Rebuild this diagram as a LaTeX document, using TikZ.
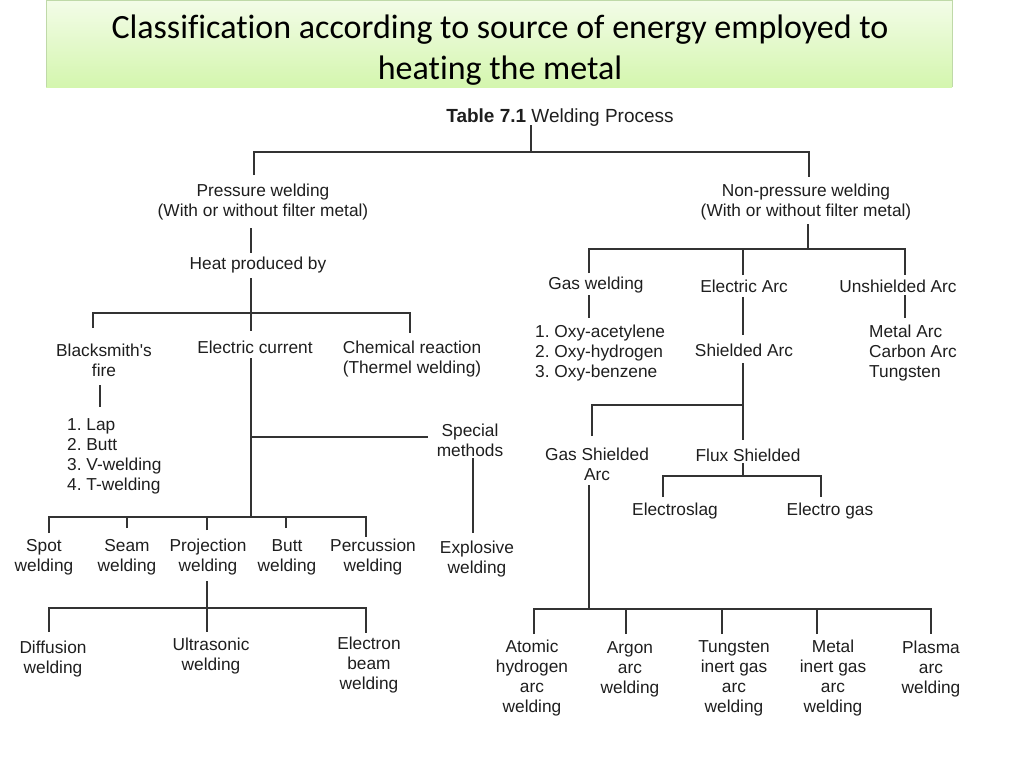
\documentclass[tikz,border=0pt]{standalone}
\usepackage{fontspec}
\setmainfont{Liberation Sans}
\newfontfamily\titlefont[Ligatures=CommonOff]{Carlito}
\definecolor{lncol}{HTML}{333333}
\definecolor{txtcol}{HTML}{1E1E1E}
\definecolor{bantop}{HTML}{F3FCE8}
\definecolor{banbot}{HTML}{D4F6AE}
\definecolor{banline}{HTML}{BFD9A8}
\frenchspacing
\begin{document}
\begin{tikzpicture}[x=1pt,y=-1pt,
  lbl/.style={inner sep=0pt, align=center, font=\fontsize{17.3}{20}\selectfont, text=txtcol, yshift=-2pt},
  lst/.style={lbl, align=left, anchor=west},
  ln/.style={line width=1.8pt, draw=lncol}]
\useasboundingbox (0,0) rectangle (1024,768);
% title banner
\shade[top color=bantop, bottom color=banbot] (46,0) rectangle (952,87);
\draw[banline, line width=1pt] (46,87) -- (46,0.5) -- (952,0.5) -- (952,87);
\node[inner sep=0pt, align=center, font=\titlefont\fontsize{34}{41}\selectfont] (title) at (500,50)
  {Classification according to source of energy employed to\\heating the metal};
% nodes
\node[lbl, font=\fontsize{19}{22}\selectfont, yshift=-1pt] (tab) at (560,115) {\textbf{Table 7.1} Welding Process};
\node[lbl] (pw) at (263,200) {Pressure welding\\(With or without filter metal)};
\node[lbl] (hp) at (258,263) {Heat produced by};
\node[lbl] (bf) at (104,358) {Blacksmith\textquotesingle s\\fire};
\node[lbl] (ec) at (255,345) {Electric current};
\node[lbl] (cr) at (412,357) {Chemical reaction\\(Thermel welding)};
\node[lst] (bl) at (67,454.5) {1. Lap\\2. Butt\\3. V-welding\\4. T-welding};
\node[lbl] (sm) at (470,438) {Special\\methods};
\node[lbl] (ex) at (477,557) {Explosive\\welding};
\node[lbl] (spot) at (44,555) {Spot\\welding};
\node[lbl] (seam) at (127,555) {Seam\\welding};
\node[lbl] (proj) at (208,555) {Projection\\welding};
\node[lbl] (butt) at (287,555) {Butt\\welding};
\node[lbl] (perc) at (373,555) {Percussion\\welding};
\node[lbl] (diff) at (53,657.5) {Diffusion\\welding};
\node[lbl] (ultra) at (211,654.5) {Ultrasonic\\welding};
\node[lbl] (eb) at (369,663.5) {Electron\\beam\\welding};
\node[lbl] (npw) at (806,200) {Non-pressure welding\\(With or without filter metal)};
\node[lbl] (gw) at (596,283) {Gas welding};
\node[lbl] (ea) at (744,284) {Electric Arc};
\node[lbl] (ua) at (898,284) {Unshielded Arc};
\node[lst] (ox) at (535,351) {1. Oxy-acetylene\\2. Oxy-hydrogen\\3. Oxy-benzene};
\node[lbl] (sa) at (744,348) {Shielded Arc};
\node[lst] (ma) at (869,351) {Metal Arc\\Carbon Arc\\Tungsten};
\node[lbl] (gsa) at (597,462.5) {Gas Shielded\\Arc};
\node[lbl] (fs) at (748,453) {Flux Shielded};
\node[lbl] (es) at (675,509) {Electroslag};
\node[lbl] (eg) at (830,509) {Electro gas};
\node[lbl] (ah) at (532,676.5) {Atomic\\hydrogen\\arc\\welding};
\node[lbl] (ar) at (630,667) {Argon\\arc\\welding};
\node[lbl] (tig) at (734,676.5) {Tungsten\\inert gas\\arc\\welding};
\node[lbl] (mig) at (833,676.5) {Metal\\inert gas\\arc\\welding};
\node[lbl] (pl) at (931,667) {Plasma\\arc\\welding};
% junctions and connector ends
\coordinate (tabB) at (531,125);
\coordinate (j0) at (531,152);
\coordinate (pwT) at (254,175);
\coordinate (npwT) at (809,177);
\draw[ln] (tabB) -- (j0);
\draw[ln] (pwT) |- (j0) -| (npwT);
% pressure welding branch
\coordinate (pwB) at (251,228);
\coordinate (hpT) at (251,253);
\draw[ln] (pwB) -- (hpT);
\coordinate (hpB) at (251,278);
\coordinate (j1) at (251,313);
\coordinate (ecT) at (251,331);
\coordinate (bfT) at (93,328);
\coordinate (crT) at (410,333);
\draw[ln] (hpB) -- (ecT);
\draw[ln] (bfT) |- (j1) -| (crT);
\coordinate (bfB) at (100,385);
\coordinate (blT) at (100,407);
\draw[ln] (bfB) -- (blT);
\coordinate (ecB) at (251,358);
\coordinate (j2) at (251,517);
\draw[ln] (ecB) -- (j2);
\coordinate (j3) at (251,437);
\coordinate (smL) at (428,437);
\draw[ln] (j3) -- (smL);
\coordinate (smB) at (473,458);
\coordinate (exT) at (473,533);
\draw[ln] (smB) -- (exT);
\coordinate (spotT) at (49,533);
\coordinate (seamT) at (127,528);
\coordinate (projT) at (207,530);
\coordinate (buttT) at (286,528);
\coordinate (percT) at (366,537);
\draw[ln] (spotT) |- (j2) -| (percT);
\draw[ln] (seamT) -- (seamT |- j2);
\draw[ln] (projT) -- (projT |- j2);
\draw[ln] (buttT) -- (buttT |- j2);
\coordinate (projB) at (207,581);
\coordinate (j4) at (207,608);
\coordinate (diffT) at (49,632);
\coordinate (ultraT) at (207,632);
\coordinate (ebT) at (366,633);
\draw[ln] (projB) -- (ultraT);
\draw[ln] (diffT) |- (j4) -| (ebT);
% non-pressure branch
\coordinate (npwB) at (808,224);
\coordinate (j5) at (808,249);
\draw[ln] (npwB) -- (j5);
\coordinate (gwT) at (589,273);
\coordinate (eaT) at (743,275);
\coordinate (uaT) at (905,275);
\draw[ln] (gwT) |- (j5) -| (uaT);
\draw[ln] (eaT) -- (eaT |- j5);
\coordinate (gwB) at (589,295);
\coordinate (oxT) at (589,318);
\draw[ln] (gwB) -- (oxT);
\coordinate (eaB) at (743,297);
\coordinate (saT) at (743,335);
\draw[ln] (eaB) -- (saT);
\coordinate (uaB) at (905,295);
\coordinate (maT) at (905,318);
\draw[ln] (uaB) -- (maT);
\coordinate (saB) at (743,363);
\coordinate (fsT) at (743,440);
\coordinate (j6) at (743,405);
\coordinate (gsaT) at (592,436);
\draw[ln] (saB) -- (fsT);
\draw[ln] (gsaT) |- (j6);
\coordinate (fsB) at (743,463);
\coordinate (j7) at (743,476);
\coordinate (esT) at (663,497);
\coordinate (egT) at (821,497);
\draw[ln] (fsB) -- (j7);
\draw[ln] (esT) |- (j7) -| (egT);
\coordinate (gsaB) at (589,485);
\coordinate (j8) at (589,609);
\draw[ln] (gsaB) -- (j8);
\coordinate (ahT) at (534,634);
\coordinate (arT) at (626,634);
\coordinate (tigT) at (722,634);
\coordinate (migT) at (817,634);
\coordinate (plT) at (931,634);
\draw[ln] (ahT) |- (j8) -| (plT);
\draw[ln] (arT) -- (arT |- j8);
\draw[ln] (tigT) -- (tigT |- j8);
\draw[ln] (migT) -- (migT |- j8);
\end{tikzpicture}
\end{document}
